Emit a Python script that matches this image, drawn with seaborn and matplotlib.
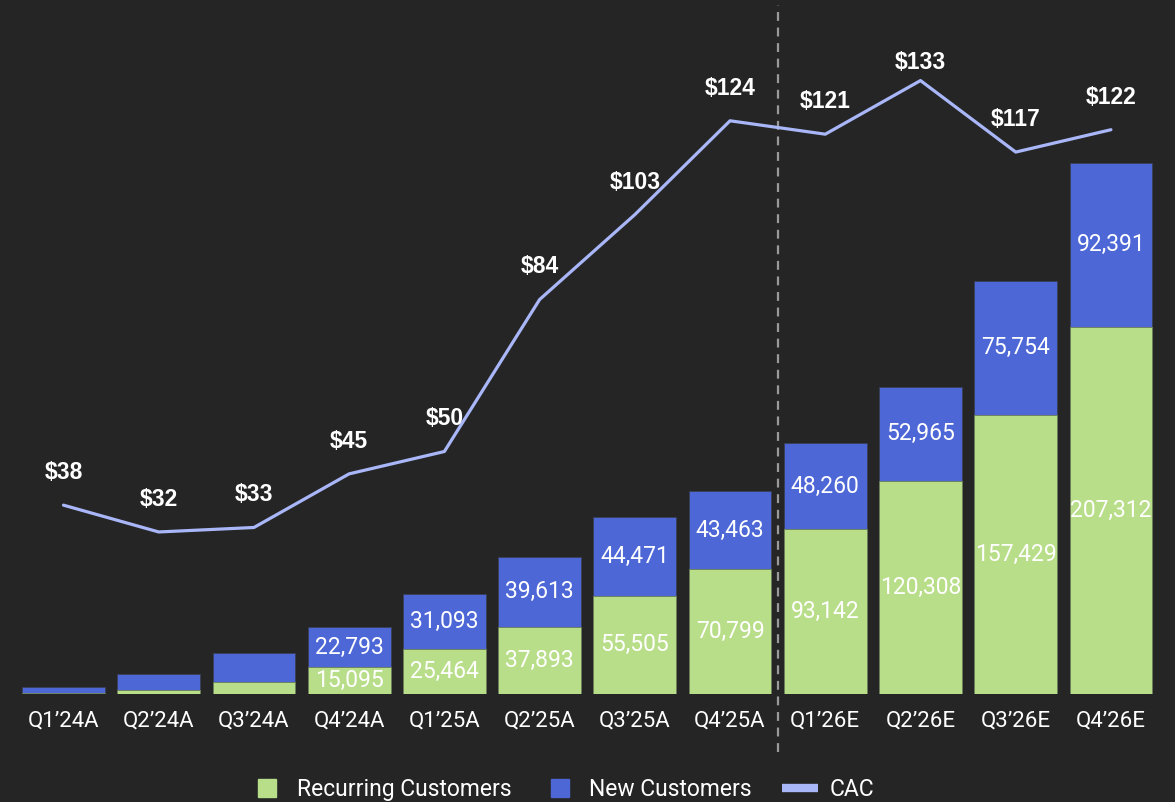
import numpy as np
import pandas as pd
import matplotlib
matplotlib.use("Agg")
import matplotlib.pyplot as plt
import seaborn as sns
from matplotlib.lines import Line2D

# -------------------------
# Data
# -------------------------
quarters = ["Q1\u201924A", "Q2\u201924A", "Q3\u201924A", "Q4\u201924A",
            "Q1\u201925A", "Q2\u201925A", "Q3\u201925A", "Q4\u201925A",
            "Q1\u201926E", "Q2\u201926E", "Q3\u201926E", "Q4\u201926E"]
recurring = [500, 2300, 6800, 15095, 25464, 37893, 55505, 70799,
             93142, 120308, 157429, 207312]
new_customers = [3500, 9000, 16200, 22793, 31093, 39613, 44471, 43463,
                 48260, 52965, 75754, 92391]
cac = [38, 32, 33, 45, 50, 84, 103, 124, 121, 133, 117, 122]

BG = "#252525"
GREEN = "#b9de8a"
BLUE = "#4d67d6"
LINE = "#a9b6f8"

df = pd.DataFrame({
    "quarter": quarters,
    "recurring": recurring,
    "new": new_customers,
    "cac": cac,
})
df["total"] = df["recurring"] + df["new"]
df["pos"] = np.arange(len(df))

sns.set_theme(style="dark")
plt.rcParams["font.family"] = ["Roboto", "DejaVu Sans"]

fig = plt.figure(figsize=(11.75, 8.02), dpi=100, facecolor=BG)
ax = fig.add_axes([0.0054, 0.1347, 0.9887, 0.8529])
ax.set_facecolor(BG)

# stacked bars: total first (blue), then recurring (green) on top
sns.barplot(data=df, x="quarter", y="total", color=BLUE, width=0.87,
            saturation=1, edgecolor="#3a3f55", linewidth=0.6, ax=ax)
sns.barplot(data=df, x="quarter", y="recurring", color=GREEN, width=0.87,
            saturation=1, edgecolor="#6b7d55", linewidth=0.6, ax=ax)

ax.set_xlim(-0.6, 11.6)
ax.set_ylim(0, 386000)
ax.set_xlabel("")
ax.set_ylabel("")
ax.set_yticks([])
ax.tick_params(axis="x", colors="white", labelsize=16, length=0, pad=12)
for s in ax.spines.values():
    s.set_visible(False)
ax.grid(False)

# segment labels
for i, row in df.iterrows():
    if row["total"] < 30000:
        continue
    ax.text(i, row["recurring"] / 2, f"{row['recurring']:,}", ha="center",
            va="center", color="white", fontsize=16.5)
    ax.text(i, row["recurring"] + row["new"] / 2, f"{row['new']:,}",
            ha="center", va="center", color="white", fontsize=16.5)

# CAC line on secondary axis
ax2 = ax.twinx()
sns.lineplot(data=df, x="pos", y="cac", color=LINE, linewidth=2.3, ax=ax2)
ax2.set_ylim(-4.25, 148.8)
ax2.set_yticks([])
ax2.set_ylabel("")
ax2.set_xlabel("")
for s in ax2.spines.values():
    s.set_visible(False)
ax2.grid(False)
ax.set_xlim(-0.6, 11.6)

# labels sit above each point, but are kept inside the top of the plot
for i, v in enumerate(cac):
    ax2.text(i, min(v + 7.3, 137.0), f"${v}", ha="center", va="center",
             color="white", fontsize=16.5, fontweight="bold",
             family=["Liberation Sans", "DejaVu Sans"])

# actual / estimate divider
ax.axvline(7.5, ymin=-0.085, ymax=1.007, color="#9a9a9a", linestyle=(0, (4, 3)),
           linewidth=1.6, clip_on=False)

# legend
handles = [
    Line2D([], [], marker="s", linestyle="none", markersize=13,
           markerfacecolor=GREEN, markeredgecolor=GREEN, label="Recurring Customers"),
    Line2D([], [], marker="s", linestyle="none", markersize=13,
           markerfacecolor=BLUE, markeredgecolor=BLUE, label="New Customers"),
    Line2D([], [], color=LINE, linewidth=6, solid_capstyle="butt", label="CAC"),
]
leg = fig.legend(handles=handles, loc="center", bbox_to_anchor=(0.478, 0.016),
                 ncol=3, frameon=False, fontsize=16.5, handlelength=1.6,
                 handletextpad=0.5, columnspacing=1.3)
for t in leg.get_texts():
    t.set_color("white")

fig.savefig("out.png", dpi=100, facecolor=BG)
plt.close(fig)
